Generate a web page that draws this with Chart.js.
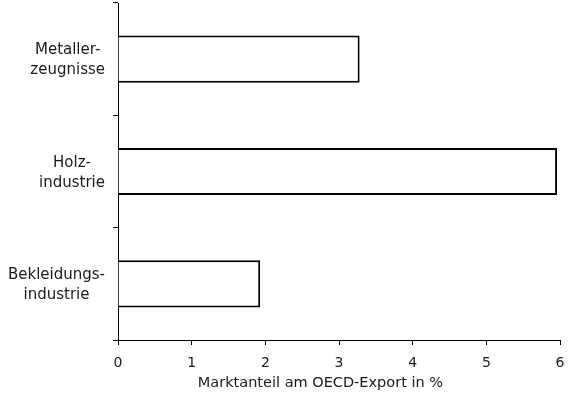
<!DOCTYPE html>
<html>
<head>
<meta charset="utf-8">
<script src="https://cdn.jsdelivr.net/npm/chart.js@4/dist/chart.umd.min.js"></script>
<style>
  html, body { margin: 0; padding: 0; background: #fff; }
  #wrap { width: 569px; height: 400px; }
</style>
</head>
<body>
<div id="wrap"><canvas id="c" width="569" height="400"></canvas></div>
<script>
const categories = [["Metaller-", "zeugnisse"], ["Holz-", "industrie"], ["Bekleidungs-", "industrie"]];
const marketShare = [3.28, 5.96, 1.93];
const xTicks = [0, 1, 2, 3, 4, 5, 6];
const xTitle = "Marktanteil am OECD-Export in %";

const FONT = "'DejaVu Sans', sans-serif";
const TEXT = "#1a1a1a";

const textPlugin = {
  id: 'textPlugin',
  afterDraw(chart) {
    const ys = chart.scales.y;
    const xs = chart.scales.x;
    const ctx = chart.ctx;
    ctx.save();
    ctx.fillStyle = TEXT;
    // category labels: each block right-aligned, lines centred within the block
    ctx.font = "15px " + FONT;
    ctx.textAlign = 'center';
    ctx.textBaseline = 'alphabetic';
    const rightX = ys.right - 13;
    const lh = 20;
    categories.forEach((lines, i) => {
      const maxW = Math.max(...lines.map(l => ctx.measureText(l).width));
      const cx = rightX - maxW / 2;
      const yc = ys.getPixelForTick(i);
      lines.forEach((l, j) => {
        ctx.fillText(l, cx, yc + 5 + (j - (lines.length - 1) / 2) * lh);
      });
    });
    // x-axis title
    ctx.font = "14.5px " + FONT;
    ctx.textBaseline = 'middle';
    const ca = chart.chartArea;
    ctx.fillText(xTitle, ca.left + (ca.right - ca.left) * 0.458, xs.bottom - 17);
    ctx.restore();
  }
};

new Chart(document.getElementById('c'), {
  type: 'bar',
  data: {
    labels: categories,
    datasets: [{
      data: marketShare,
      backgroundColor: '#ffffff',
      borderColor: '#000000',
      borderWidth: 2,
      categoryPercentage: 1,
      barPercentage: 0.42
    }]
  },
  options: {
    indexAxis: 'y',
    responsive: false,
    animation: false,
    layout: { padding: { top: 3, right: 0, left: 0, bottom: 0 } },
    plugins: { legend: { display: false }, tooltip: { enabled: false } },
    scales: {
      x: {
        min: 0, max: 6,
        afterBuildTicks(scale) { scale.ticks = xTicks.map(v => ({ value: v })); },
        afterFit(scale) { scale.height = 60; scale.paddingRight = 9; scale.paddingLeft = 0; },
        border: { display: true, color: '#000', width: 1 },
        grid: { display: true, drawOnChartArea: false, drawTicks: true, tickLength: 5, color: '#000' },
        ticks: { color: TEXT, font: { family: FONT, size: 14 }, padding: 10 },
        title: { display: false }
      },
      y: {
        afterFit(scale) { scale.width = 118; },
        border: { display: true, color: '#000', width: 1 },
        grid: { display: true, offset: true, drawOnChartArea: false, drawTicks: true, tickLength: 5, color: '#000' },
        ticks: { display: false }
      }
    }
  },
  plugins: [textPlugin]
});
</script>
</body>
</html>
